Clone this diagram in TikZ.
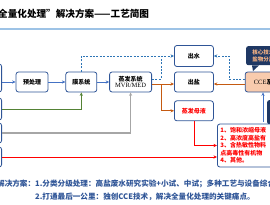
\documentclass[tikz,border=0pt]{standalone}
\usepackage{fontspec}
\setmainfont{Noto Sans CJK SC}
\newfontfamily\latserif{Liberation Serif}
\usepackage{xcolor}
\usetikzlibrary{positioning,arrows.meta,calc}
\definecolor{cNavy}{HTML}{2F5597}
\definecolor{cDeep}{HTML}{1F3864}
\definecolor{cBlue}{HTML}{4472C4}
\definecolor{cDash}{HTML}{2E75B6}
\definecolor{cGreen}{HTML}{548235}
\definecolor{cOrange}{HTML}{C55A11}
\definecolor{cGrey}{HTML}{A6A6A6}
\definecolor{cRed}{HTML}{FF0000}
\definecolor{cPeach}{HTML}{F8CBAD}
\definecolor{cTipT}{HTML}{F4B183}
\definecolor{cRule}{HTML}{9DC3E6}

\begin{document}
\begin{tikzpicture}[x=1pt,y=-1pt,node distance=0pt,
  box/.style={rounded corners=2.5pt,draw=cNavy,line width=0.8pt,fill=white,align=center,
              inner sep=0pt,minimum height=20pt,font=\bfseries\fontsize{6}{7}\selectfont},
  ar/.style={-{Stealth[length=3.5pt,width=3.2pt]},line width=0.8pt},
  dar/.style={ar,dash pattern=on 2pt off 1.4pt},
  lbl/.style={inner sep=0pt,anchor=west}]
\useasboundingbox (0,0) rectangle (270,204);

\node[lbl,font=\bfseries\fontsize{9.6}{11}\selectfont] (title) at (-2,14)
  {全量化处理”解决方案——工艺简图};
\draw[cRule,line width=1.6pt] (0,29) -- (270,29);

% feed boxes, cut by the left edge
\node[box,anchor=east,minimum width=30pt,minimum height=28pt] (srcA) at (2,78) {};
\node[box,anchor=east,minimum width=30pt,minimum height=22pt] (srcB) at (2,109) {};
\node[box,anchor=east,minimum width=30pt,minimum height=20pt] (srcC) at (2,133) {};
\node[box,anchor=east,minimum width=30pt,minimum height=20pt] (srcD) at (2,157) {};

% main line
\node[box,minimum width=32pt] (pre) at (32,82) {预处理};
\node[box,minimum width=31pt,right=17pt of pre] (mem) {膜系统};
\node[box,minimum width=42pt,right=12pt of mem] (evap)
  {蒸发系统\\[-0.5pt]{\latserif\mdseries\fontsize{6.5}{7}\selectfont MVR/MED}};
\node[box,minimum width=39pt,right=22pt of evap] (salt) {出盐};
\node[box,minimum width=39pt,minimum height=21pt] (water) at (salt.center |- 0,56) {出水};
\node[box,minimum width=39pt,below=8pt of salt] (liq) {\textcolor{cRed}{蒸发母液}};
\node[box,fill=cPeach,minimum width=42pt,right=31pt of salt] (cce)
  {{\latserif\mdseries\fontsize{6.5}{7}\selectfont CCE}系统};

% callout
\node[fill=cDeep,rounded corners=2pt,anchor=north west,minimum width=40pt,minimum height=17pt,
      align=left,inner xsep=4pt,text=cTipT,font=\bfseries\fontsize{5.5}{7}\selectfont] (core)
  at (246,46) {核心技术：\\盐物分离};
\fill[cDeep] ($(core.south west)+(6,0)$) -- (253,71) -- ($(core.south west)+(13,0)$) -- cycle;

% side input under CCE
\node[fill=cDeep,rounded corners=2pt,anchor=north west,minimum width=30pt,minimum height=24pt] (feed)
  at (267,100) {};
\coordinate (feedin) at (263,122);

% list of mother liquors
\node[box,anchor=west,align=left,text width=80pt,inner xsep=3pt,minimum height=43pt,
      text=cRed,font=\bfseries\fontsize{6}{7.5}\selectfont] (list) at (217,145.5)
  {1、饱和浓缩母液\\2、高浓度高盐有\\3、含热敏性物料\\点高毒性有机物\\4、其他。};

% connectors
\draw[ar,cBlue] (srcA.east |- pre.west) -- (pre.west);
\draw[ar,cBlue] (pre) -- (mem);
\draw[ar,cBlue] (mem) -- (evap);
\draw[ar,cGreen] (srcB.east) -| (mem.south);
\draw[ar,cGrey,line width=1.2pt] (srcC.east) -| (evap.south);
\draw[ar,cRed] (srcD.east) -- (list.west |- srcD.east);
\draw[ar,cRed] (liq.south) |- (list.west);

\coordinate (jw) at (161,56);
\coordinate (jo) at (161,84);
\coordinate (jc) at (229,56);
\draw[dar,cDash] (mem.north) |- (water.west);
\draw[cDash,line width=0.8pt,dash pattern=on 2pt off 1.4pt] ([yshift=3pt]evap.east) -| (jw);
\draw[ar,cOrange] ([yshift=-2pt]evap.east) -- ([yshift=-2pt]salt.west);
\draw[ar,cOrange] (jo) |- (liq.west);
\draw[ar,cOrange] ([yshift=-2pt]cce.west) -- ([yshift=-2pt]salt.east);
\draw[dar,cDash] ([yshift=3pt]cce.west) -| (jc) -- (water.east);
\draw[ar,cBlue] (feedin) -- (feedin |- cce.south);

% summary
\node[lbl,text=cNavy,font=\bfseries\fontsize{7.6}{9}\selectfont] (sol1) at (-3,184)
  {解决方案：1.分类分级处理：高盐废水研究实验+小试、中试；多种工艺与设备综合};
\node[lbl,text=cNavy,font=\bfseries\fontsize{7.6}{9}\selectfont] (sol2) at (35,197)
  {2.打通最后一公里：独创CCE技术，解决全量化处理的关键痛点。};
\end{tikzpicture}
\end{document}
